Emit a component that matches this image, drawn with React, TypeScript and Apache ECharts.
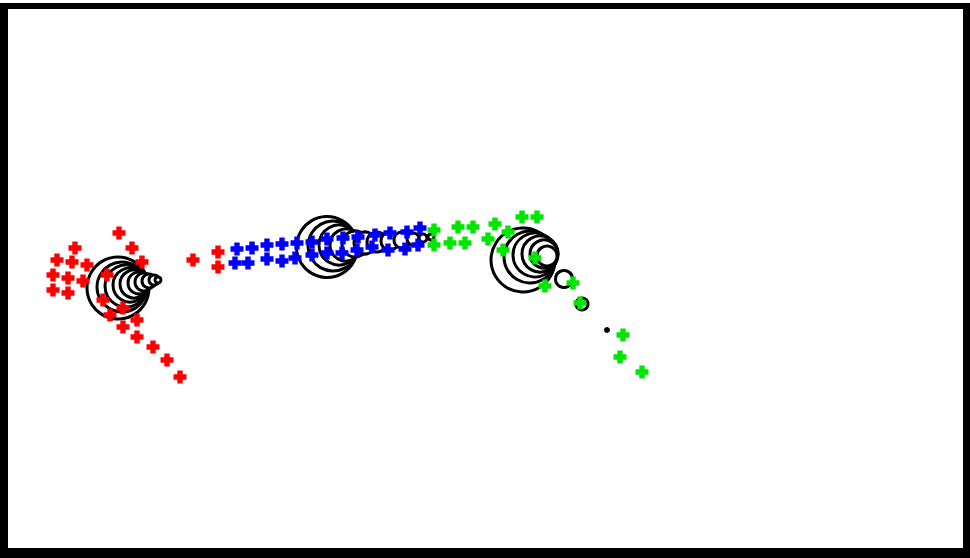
import React, { useEffect, useRef } from "react";
import * as echarts from "echarts";

const redPoints: number[][] = [
  [119, 233], [75, 248], [132, 248], [57, 260], [72, 262], [87, 265], [142, 262],
  [53, 275], [68, 278], [83, 281], [53, 290], [68, 293], [193, 260], [107, 275],
  [103, 300], [110, 315], [123, 308], [123, 327], [137, 320], [137, 337], [153, 347],
  [167, 360], [180, 377], [218, 252], [218, 267],
];

const bluePoints: number[][] = [
  [237, 249], [252, 248], [267, 245], [282, 244], [297, 243], [312, 242], [327, 239],
  [343, 238], [358, 237], [375, 235], [390, 233], [407, 232], [420, 228],
  [235, 263], [248, 263], [267, 259], [282, 261], [295, 258], [312, 255], [327, 253],
  [342, 253], [357, 250], [372, 247], [388, 250], [405, 249], [418, 245],
];

const greenPoints: number[][] = [
  [434, 230], [434, 245], [450, 243], [458, 227], [473, 227], [465, 243], [495, 224],
  [488, 239], [522, 217], [537, 217], [508, 232], [503, 250], [535, 258], [545, 286],
  [573, 283], [580, 303], [623, 335], [620, 357], [642, 372],
];

// [x, y, diameter]
const circles: number[][] = [
  [118, 288, 62], [122, 287, 50], [126, 286, 42], [130, 285, 34], [134, 284, 28],
  [139, 283, 22], [144, 282, 18], [149, 281, 14], [154, 280, 10], [158, 280, 6],
  [327, 247, 61], [333, 246, 50], [339, 245, 40], [346, 245, 32], [355, 244, 26],
  [365, 243, 22], [377, 242, 20], [390, 241, 18], [402, 240, 16], [413, 239, 12],
  [423, 238, 8], [431, 237, 6],
  [523, 260, 64], [530, 257, 52], [535, 255, 44], [540, 254, 36], [544, 254, 28],
  [547, 256, 20], [564, 279, 17], [582, 304, 12], [607, 330, 3],
];

const plus = "path://M3.5,0H8.5V3.5H12V8.5H8.5V12H3.5V8.5H0V3.5H3.5Z";

export default function App() {
  const ref = useRef<HTMLDivElement>(null);
  useEffect(() => {
    if (!ref.current) return;
    const chart = echarts.init(ref.current, null, { renderer: "svg" });
    const markerSeries = (data: number[][], color: string) => ({
      type: "scatter",
      data,
      symbol: plus,
      symbolSize: 13,
      itemStyle: { color, opacity: 1 },
      z: 3,
    });
    chart.setOption({
      animation: false,
      backgroundColor: "#ffffff",
      grid: { left: 0, right: 0, top: 0, bottom: 0 },
      xAxis: { type: "value", min: 0, max: 970, show: false },
      yAxis: { type: "value", min: 0, max: 558, inverse: true, show: false },
      series: [
        {
          type: "scatter",
          data: circles,
          symbol: "circle",
          symbolSize: (v: number[]) => v[2],
          itemStyle: { color: "#ffffff", borderColor: "#000000", borderWidth: 3, opacity: 1 },
          z: 2,
        },
        markerSeries(redPoints, "#ff0000"),
        markerSeries(bluePoints, "#0000ff"),
        markerSeries(greenPoints, "#00e600"),
      ],
      graphic: [
        { type: "rect", shape: { x: 0, y: 3, width: 970, height: 6 }, style: { fill: "#000" } },
        { type: "rect", shape: { x: 0, y: 3, width: 8, height: 555 }, style: { fill: "#000" } },
        { type: "rect", shape: { x: 963, y: 3, width: 7, height: 555 }, style: { fill: "#000" } },
        { type: "rect", shape: { x: 0, y: 548, width: 970, height: 10 }, style: { fill: "#000" } },
      ],
    });
    return () => chart.dispose();
  }, []);
  return (
    <div
      ref={ref}
      style={{ position: "absolute", left: 0, top: 0, width: 970, height: 558 }}
    />
  );
}
